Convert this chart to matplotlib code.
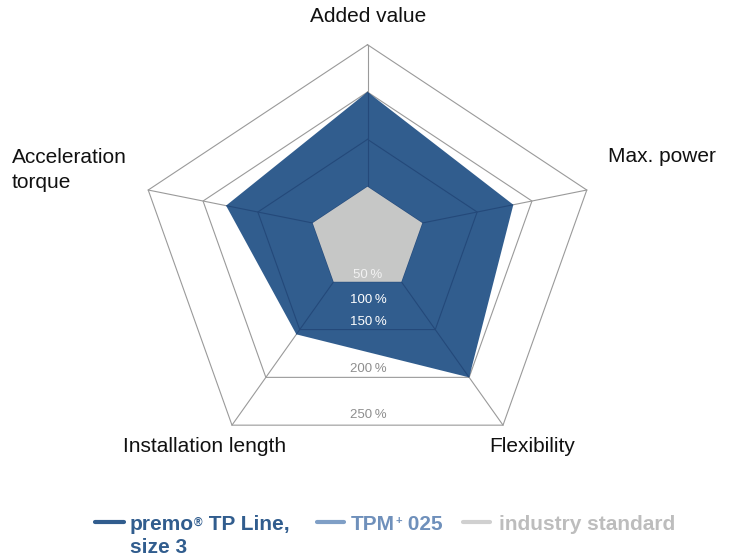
import numpy as np
import matplotlib.pyplot as plt
from matplotlib.lines import Line2D

plt.rcParams["font.family"] = ["Liberation Sans", "DejaVu Sans"]

W, H = 735, 557

categories = ["Added value", "Max. power", "Flexibility", "Installation length", "Acceleration\ntorque"]
premo_values = [200, 183, 200, 155, 179]
industry_values = [100, 100, 100, 100, 100]
ring_levels = [100, 150, 200, 250]
scale_labels = ["50\u2009%", "100\u2009%", "150\u2009%", "200\u2009%", "250\u2009%"]
r_min, r_max = 50, 250

BLUE = "#315d8e"
BLUE_DARK = "#24497a"
BLUE_LIGHT = "#7f9fc6"
GREY_FILL = "#c6c7c6"
GRID = "#9a9a9a"

# the web is drawn with a slight perspective: wider than tall, centre raised
stretch_x, stretch_y, tilt = 1.218, 1.111, 0.111
angles = np.arange(len(categories)) * 2 * np.pi / len(categories)


def to_xy(values):
    r = (np.asarray(values, dtype=float) - r_min) / (r_max - r_min)
    x = r * stretch_x * np.sin(angles)
    y = r * (stretch_y * np.cos(angles) - tilt)
    return np.append(x, x[0]), np.append(y, y[0])


def px(x, y):
    return x / W, 1 - y / H


fig = plt.figure(figsize=(W / 100, H / 100), dpi=100)
ax = fig.add_axes([0, 0, 1, 1])
unit = 189.3
cx, cy = 367.5, 234
ax.set_xlim(-cx / unit, (W - cx) / unit)
ax.set_ylim(-(H - cy) / unit, cy / unit)
ax.axis("off")

# web: rings and spokes
def draw_web(color, zorder, clip=None):
    lines = []
    for lvl in ring_levels:
        x, y = to_xy([lvl] * len(categories))
        lines += ax.plot(x, y, color=color, lw=0.8, zorder=zorder)
    ox, oy = to_xy([r_max] * len(categories))
    for i in range(len(categories)):
        lines += ax.plot([0, ox[i]], [0, oy[i]], color=color, lw=0.8, zorder=zorder)
    if clip is not None:
        for ln in lines:
            ln.set_clip_path(clip)


draw_web(GRID, 1)
px_, py_ = to_xy(premo_values)
premo_patch = ax.fill(px_, py_, color=BLUE, lw=0, zorder=2)[0]
draw_web(BLUE_DARK, 3, clip=premo_patch)
ix, iy = to_xy(industry_values)
ax.fill(ix, iy, color=GREY_FILL, lw=0, zorder=4)

# scale labels
label_y = [275, 300, 322.3, 369.3, 415]
label_colors = ["#f2f2f2", "white", "white", "#8e8e8e", "#8e8e8e"]
for s, yy, c in zip(scale_labels, label_y, label_colors):
    fig.text(*px(368, yy), s, ha="center", va="center", fontsize=9.5, color=c, zorder=5)

# category labels
cat_pos = [(368, 17, "center"), (662, 157, "center"), (532, 446, "center"),
           (205, 446, "center"), (12, 170, "left")]
for name, (x, y, ha) in zip(categories, cat_pos):
    fig.text(*px(x, y), name, ha=ha, va="center", fontsize=15, color="#111111",
             linespacing=1.45)

# legend
def legend_line(x0, x1, y, color):
    fig.add_artist(Line2D([x0 / W, x1 / W], [1 - y / H] * 2, color=color, lw=3,
                          solid_capstyle="round"))


legend_line(95, 124, 522, BLUE)
t1 = fig.text(*px(130, 530), "premo", fontsize=15, weight="bold", color=BLUE, va="baseline")
t2 = ax.annotate("®", xy=(1, 0.93), xycoords=t1, va="top", fontsize=8.5,
                 weight="bold", color=BLUE)
ax.annotate(" TP Line,", xy=(1, 0), xycoords=(t2, t1), va="bottom", fontsize=15,
            weight="bold", color=BLUE)
fig.text(*px(130, 553), "size 3", fontsize=15, weight="bold", color=BLUE, va="baseline")

legend_line(317, 344, 522, BLUE_LIGHT)
t4 = fig.text(*px(351, 530), "TPM", fontsize=15, weight="bold", color="#6f90bb", va="baseline")
t5 = ax.annotate("+", xy=(1, 0.93), xycoords=t4, va="top", fontsize=8,
                 weight="bold", color="#6f90bb")
ax.annotate(" 025", xy=(1, 0), xycoords=(t5, t4), va="bottom", fontsize=15,
            weight="bold", color="#6f90bb")

legend_line(463, 490, 522, "#d0d0d0")
fig.text(*px(499, 530), "industry standard", fontsize=15, weight="bold",
         color="#bdbdbd", va="baseline")

fig.savefig("out.png", dpi=100)
